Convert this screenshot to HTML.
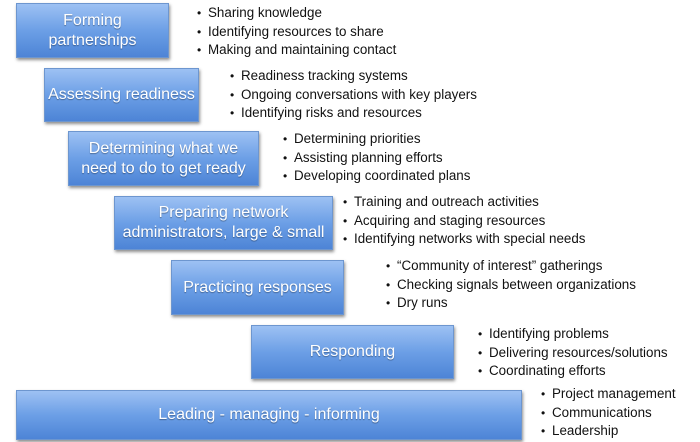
<!DOCTYPE html>
<html><head><style>
body{margin:0;width:700px;height:442px;background:#fff;position:relative;overflow:hidden;font-family:"Liberation Sans",sans-serif}
.b{position:absolute;display:flex;align-items:center;justify-content:center;text-align:center;color:#fff;font-size:16px;line-height:20px;background:linear-gradient(#9dc1f3,#6c9fe6 50%,#4d84d6);border:1px solid #6d96cf;box-shadow:1px 2px 3px rgba(0,0,0,.45);text-shadow:0 1px 1px rgba(0,0,0,.35)}
.l{position:absolute;font-size:13.4px;color:#111;line-height:18.6px;white-space:nowrap}
.l div:before{content:"•";display:inline-block;width:11px;font-size:12px}
</style></head><body>
<div class="b" style="left:16px;top:3px;width:151px;height:53px">Forming<br>partnerships</div>
<div class="b" style="left:44px;top:68px;width:153px;height:52px">Assessing readiness</div>
<div class="b" style="left:68px;top:131px;width:189px;height:53px">Determining what we<br>need to do to get ready</div>
<div class="b" style="left:114px;top:196px;width:217px;height:52px">Preparing network<br>administrators, large &amp; small</div>
<div class="b" style="left:171px;top:260px;width:171px;height:53px">Practicing responses</div>
<div class="b" style="left:251px;top:325px;width:201px;height:52px">Responding</div>
<div class="b" style="left:16px;top:390px;width:504px;height:48px">Leading - managing - informing</div>
<div class="l" style="left:197px;top:4px"><div>Sharing knowledge</div><div>Identifying resources to share</div><div>Making and maintaining contact</div></div>
<div class="l" style="left:230px;top:67px"><div>Readiness tracking systems</div><div>Ongoing conversations with key players</div><div>Identifying risks and resources</div></div>
<div class="l" style="left:283px;top:130px"><div>Determining priorities</div><div>Assisting planning efforts</div><div>Developing coordinated plans</div></div>
<div class="l" style="left:343px;top:193px"><div>Training and outreach activities</div><div>Acquiring and staging resources</div><div>Identifying networks with special needs</div></div>
<div class="l" style="left:386px;top:257px"><div>“Community of interest” gatherings</div><div>Checking signals between organizations</div><div>Dry runs</div></div>
<div class="l" style="left:478px;top:325px"><div>Identifying problems</div><div>Delivering resources/solutions</div><div>Coordinating efforts</div></div>
<div class="l" style="left:541px;top:385px"><div>Project management</div><div>Communications</div><div>Leadership</div></div>
</body></html>
